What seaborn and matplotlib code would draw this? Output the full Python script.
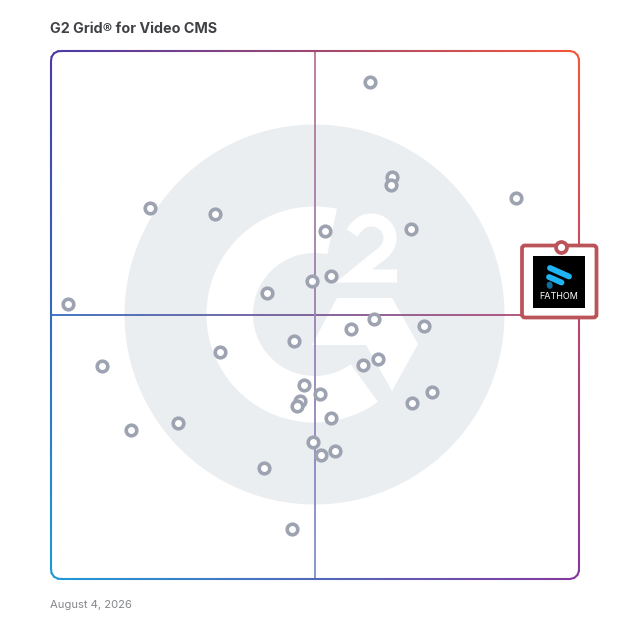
import matplotlib
matplotlib.use("Agg")
import matplotlib.pyplot as plt
from matplotlib.collections import LineCollection
from matplotlib.patches import Circle, FancyBboxPatch, PathPatch, Polygon, Rectangle, Wedge
from matplotlib.path import Path
import numpy as np
import pandas as pd
import seaborn as sns

TITLE = "G2 Grid\u00ae for Video CMS"
DATE_LABEL = "August 4, 2026"
HIGHLIGHT_NAME = "FATHOM"

# market presence / satisfaction, both on a 0-100 scale
market_presence = [60.4, 64.5, 64.3, 88.0, 18.8, 31.1, 51.8, 68.1, 53.1, 49.5, 41.0, 3.3,
                   61.1, 70.7, 56.9, 46.1, 32.1, 9.7, 62.0, 59.0, 48.0, 51.0, 47.2, 46.5,
                   72.2, 68.3, 53.1, 24.1, 15.1, 49.7, 53.7, 51.2, 40.4, 45.7]
satisfaction = [94.2, 76.2, 74.7, 72.1, 70.2, 69.2, 66.0, 66.2, 57.3, 56.4, 54.1, 52.0,
                49.3, 48.0, 47.3, 45.0, 42.9, 40.3, 41.6, 40.6, 36.8, 35.1, 33.8, 32.7,
                35.5, 33.4, 30.4, 29.6, 28.3, 25.9, 24.3, 23.4, 21.1, 9.4]
highlight_x = [96.5]
highlight_y = [62.8]

GRID_LEFT, GRID_TOP, GRID_SIZE = 51, 51, 528
CORNERS = {"tl": "#4a3aa8", "tr": "#f4573a", "bl": "#1f9ad6", "br": "#86389e"}
MARKER = "#9ea3b2"
BADGE = "#bb5459"
WATERMARK = "#ebeef1"

sns.set_theme(style="white")
plt.rcParams["font.family"] = ["Inter", "DejaVu Sans"]

fig = plt.figure(figsize=(6.28, 6.28), dpi=100, facecolor="white")
ax = fig.add_axes([GRID_LEFT / 628, (628 - GRID_TOP - GRID_SIZE) / 628, GRID_SIZE / 628, GRID_SIZE / 628])
ax.set_xlim(0, 100)
ax.set_ylim(0, 100)
ax.set_aspect("equal")
ax.axis("off")


def px(x, y):
    # picture pixels to data units
    return (x - GRID_LEFT) / GRID_SIZE * 100, (GRID_TOP + GRID_SIZE - y) / GRID_SIZE * 100


def px_len(n):
    return n / GRID_SIZE * 100


def corner_blend(x, y):
    tl, tr = [np.array(matplotlib.colors.to_rgb(CORNERS[k])) for k in ("tl", "tr")]
    bl, br = [np.array(matplotlib.colors.to_rgb(CORNERS[k])) for k in ("bl", "br")]
    u, v = np.clip(x / 100, 0, 1), np.clip(y / 100, 0, 1)
    return (tl * (1 - u) + tr * u) * v + (bl * (1 - u) + br * u) * (1 - v)


def lighten(rgb, amount):
    return tuple(np.asarray(rgb) * (1 - amount) + amount)


def gradient_line(xs, ys, lw, fade=0.0, zorder=3, capstyle="butt"):
    pts = np.column_stack([xs, ys])
    segs = np.stack([pts[:-1], pts[1:]], axis=1)
    mids = segs.mean(axis=1)
    cols = [lighten(corner_blend(mx, my), fade) for mx, my in mids]
    lc = LineCollection(segs, colors=cols, linewidths=lw, capstyle=capstyle, zorder=zorder, clip_on=False)
    ax.add_collection(lc)


def rounded_outline(r, n=60):
    xs, ys = [], []
    arcs = [(100 - r, 100 - r, 90, 0), (100 - r, r, 0, -90), (r, r, -90, -180), (r, 100 - r, 180, 90)]
    for cx, cy, a0, a1 in arcs:
        t = np.radians(np.linspace(a0, a1, 10))
        xs += list(cx + r * np.cos(t))
        ys += list(cy + r * np.sin(t))
    xs.append(xs[0])
    ys.append(ys[0])
    # subdivide the straight runs so the colour fades along them
    d = np.r_[0, np.cumsum(np.hypot(np.diff(xs), np.diff(ys)))]
    s = np.linspace(0, d[-1], n * 8)
    return np.interp(s, d, xs), np.interp(s, d, ys)


# watermark
cx, cy = px(314.5, 314.5)
ax.add_patch(Circle((cx, cy), px_len(190), color=WATERMARK, lw=0, zorder=1))
ax.add_patch(Wedge((cx, cy), px_len(108), 78, 306, width=px_len(46.5), color="white", lw=0, zorder=1.1))
ax.add_patch(Polygon([px(337, 298), px(392, 298), px(418, 344), px(392, 391), px(366, 345), px(312, 345)],
                     closed=True, color="white", lw=0, zorder=1.1))
two_verts = [px(352, 233), px(357, 225), px(363, 220), px(371, 220),
             px(382, 220), px(390, 228), px(390, 238),
             px(390, 247), px(384, 253), px(376, 258),
             px(354, 276), px(397, 276)]
two_codes = [Path.MOVETO] + [Path.CURVE4] * 9 + [Path.LINETO, Path.LINETO]
ax.add_patch(PathPatch(Path(two_verts, two_codes), fc="none", ec="white", lw=9.4,
                       capstyle="butt", joinstyle="miter", zorder=1.1))

# quadrant lines and frame
t = np.linspace(0, 100, 200)
gradient_line(t, np.full_like(t, 50), 1.3)
gradient_line(np.full_like(t, 50), t, 1.3, fade=0.25)
gradient_line(*rounded_outline(px_len(9)), 1.5, zorder=3.1, capstyle="round")

# vendors
vendors = pd.DataFrame({"market_presence": market_presence, "satisfaction": satisfaction})
sns.scatterplot(data=vendors, x="market_presence", y="satisfaction", s=58, color="white",
                edgecolor=MARKER, linewidth=2.6, ax=ax, zorder=4, clip_on=False, legend=False)

# highlighted vendor badge
bx, by = px(522, 317.5)
ax.add_patch(FancyBboxPatch((bx + px_len(3), by + px_len(3)), px_len(68.5), px_len(66),
                            boxstyle=f"round,pad={px_len(3)},rounding_size={px_len(3)}",
                            fc="white", ec=BADGE, lw=2.7, zorder=5, clip_on=False))
lx, ly = px(532.5, 308)
ax.add_patch(Rectangle((lx, ly), px_len(52.5), px_len(52), fc="black", ec="none", zorder=6, clip_on=False))
for (x0, y0, x1, y1), col, lw in [((550, 268, 569, 276.5), "#1fb4f4", 4.2),
                                  ((549, 277, 561.5, 282.5), "#1fb4f4", 4.2),
                                  ((549.5, 284.5, 549.8, 286), "#0f6d99", 4.2)]:
    a, b = px(x0, y0), px(x1, y1)
    ax.plot([a[0], b[0]], [a[1], b[1]], color=col, lw=lw, solid_capstyle="round", zorder=7, clip_on=False)
tx, ty = px(558.5, 296.5)
ax.text(tx, ty, HIGHLIGHT_NAME, color="white", fontsize=6.5, ha="center", va="center", zorder=7, clip_on=False)
sns.scatterplot(x=highlight_x, y=highlight_y, s=62, color="white", edgecolor=BADGE, linewidth=2.7,
                ax=ax, zorder=8, clip_on=False, legend=False)

ax.set_xlabel("")
ax.set_ylabel("")

fig.text(50 / 628, 1 - 29 / 628, TITLE, fontsize=10.3, fontweight="bold", color="#404145", ha="left", va="center")
fig.text(50 / 628, 1 - 604.5 / 628, DATE_LABEL, fontsize=8.1, color="#85878c", ha="left", va="center")

fig.savefig("out.png", dpi=100, facecolor="white")
